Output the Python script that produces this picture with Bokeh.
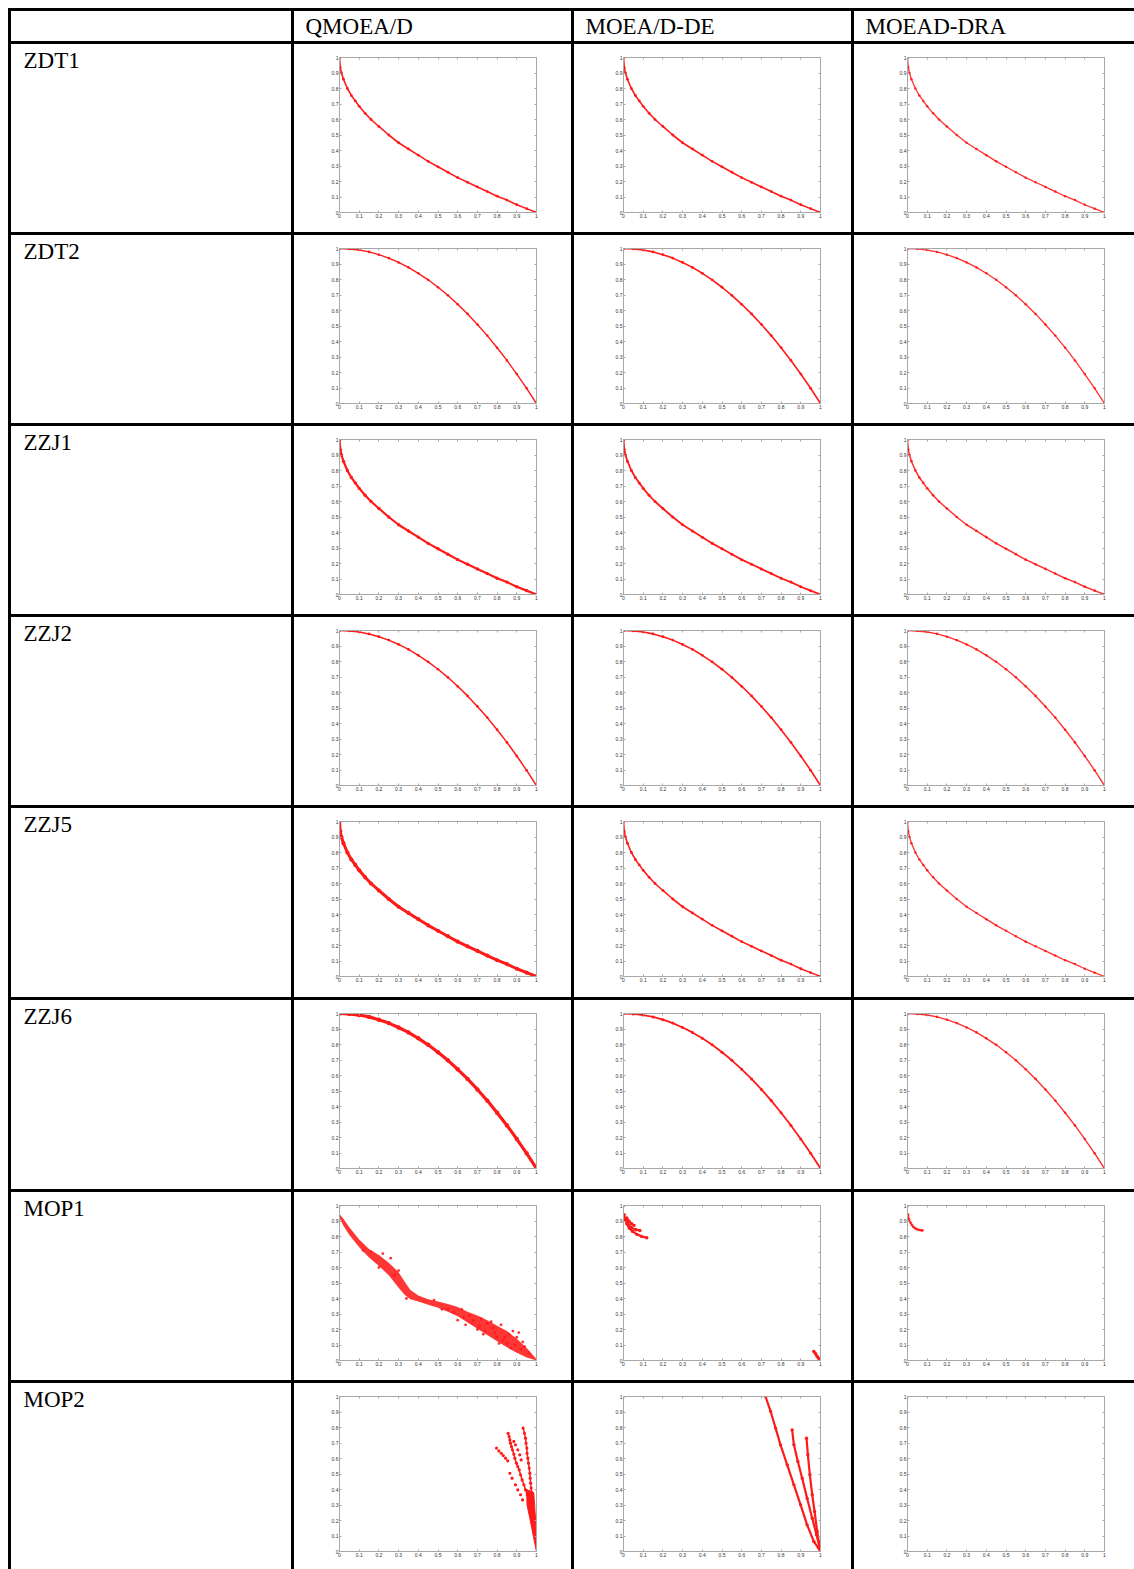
from bokeh.plotting import figure
from bokeh.models import Range1d, FixedTicker, LinearAxis, Div
from bokeh.layouts import row, column
from bokeh.core.properties import value
from bokeh.embed import file_html
from bokeh.resources import INLINE

# ---------------- data ----------------
algorithms = ["QMOEA/D", "MOEA/D-DE", "MOEAD-DRA"]
problems = ["ZDT1", "ZDT2", "ZZJ1", "ZZJ2", "ZZJ5", "ZZJ6", "MOP1", "MOP2"]

tick_values = [0.0, 0.1, 0.2, 0.3, 0.4, 0.5, 0.6, 0.7, 0.8, 0.9, 1.0]
tick_labels = ["0", "0.1", "0.2", "0.3", "0.4", "0.5", "0.6", "0.7", "0.8", "0.9", "1"]

# convex fronts (ZDT1, ZZJ1, ZZJ5)
convex_f1 = [0.0, 0.004, 0.01, 0.02, 0.04, 0.06, 0.08, 0.10, 0.13, 0.16, 0.20, 0.25, 0.30,
             0.35, 0.40, 0.45, 0.50, 0.55, 0.60, 0.65, 0.70, 0.75, 0.80, 0.85, 0.90, 0.95, 1.00]
convex_f2 = [1.0, 0.935, 0.90, 0.86, 0.80, 0.755, 0.72, 0.685, 0.64, 0.60, 0.555, 0.50, 0.45,
             0.41, 0.37, 0.33, 0.295, 0.26, 0.225, 0.195, 0.165, 0.135, 0.105, 0.08, 0.05, 0.025, 0.0]

# concave fronts (ZDT2, ZZJ2, ZZJ6)
concave_f1 = [0.0, 0.05, 0.10, 0.15, 0.20, 0.25, 0.30, 0.35, 0.40, 0.45, 0.50,
              0.55, 0.60, 0.65, 0.70, 0.75, 0.80, 0.85, 0.90, 0.95, 1.00]
concave_f2 = [1.0, 0.997, 0.99, 0.978, 0.96, 0.938, 0.91, 0.878, 0.84, 0.798, 0.75,
              0.698, 0.64, 0.578, 0.51, 0.438, 0.36, 0.278, 0.19, 0.098, 0.0]

# MOP1 - QMOEA/D (band of points)
mop1_q_f1 = [0.0, 0.02, 0.05, 0.10, 0.15, 0.20, 0.25, 0.30, 0.33, 0.36, 0.40, 0.45,
             0.50, 0.55, 0.60, 0.65, 0.70, 0.75, 0.80, 0.85, 0.90, 0.95, 1.00]
mop1_q_upper = [0.945, 0.915, 0.86, 0.78, 0.72, 0.68, 0.63, 0.57, 0.51, 0.455, 0.42, 0.395,
                0.38, 0.365, 0.345, 0.315, 0.29, 0.26, 0.225, 0.19, 0.14, 0.08, 0.01]
mop1_q_lower = [0.92, 0.87, 0.81, 0.73, 0.665, 0.61, 0.55, 0.47, 0.425, 0.395, 0.38, 0.36,
                0.34, 0.315, 0.285, 0.245, 0.205, 0.165, 0.125, 0.085, 0.05, 0.02, 0.0]
mop1_q_out_f1 = [0.0, 0.12, 0.16, 0.20, 0.22, 0.26, 0.28, 0.30, 0.34, 0.48, 0.52, 0.55,
                 0.58, 0.60, 0.62, 0.63, 0.64, 0.66, 0.68, 0.70, 0.71, 0.72, 0.73, 0.74,
                 0.75, 0.77, 0.78, 0.79, 0.80, 0.81, 0.82, 0.83, 0.84, 0.85, 0.86, 0.87,
                 0.88, 0.89, 0.90, 0.91, 0.92, 0.93, 0.94, 0.96]
mop1_q_out_f2 = [1.0, 0.71, 0.70, 0.60, 0.69, 0.66, 0.55, 0.58, 0.40, 0.39, 0.33, 0.33,
                 0.31, 0.26, 0.33, 0.28, 0.23, 0.29, 0.26, 0.20, 0.22, 0.27, 0.17, 0.19,
                 0.24, 0.25, 0.21, 0.18, 0.15, 0.11, 0.23, 0.13, 0.15, 0.11, 0.17, 0.08,
                 0.19, 0.10, 0.15, 0.18, 0.07, 0.12, 0.09, 0.05]

# MOP1 - MOEA/D-DE
mop1_de_arc1_f1 = [0.003, 0.008, 0.017, 0.029, 0.046, 0.068, 0.091, 0.118]
mop1_de_arc1_f2 = [0.94, 0.91, 0.882, 0.854, 0.833, 0.814, 0.801, 0.792]
mop1_de_arc2_f1 = [0.012, 0.024, 0.041, 0.063, 0.083]
mop1_de_arc2_f2 = [0.904, 0.876, 0.857, 0.844, 0.839]
mop1_de_arc3_f1 = [0.017, 0.029, 0.041, 0.054]
mop1_de_arc3_f2 = [0.919, 0.897, 0.882, 0.872]
mop1_de_tail_f1 = [0.966, 0.975, 0.983, 0.992, 1.0]
mop1_de_tail_f2 = [0.058, 0.043, 0.026, 0.013, 0.0]

# MOP1 - MOEAD-DRA
mop1_dra_f1 = [0.003, 0.008, 0.015, 0.022, 0.03, 0.04, 0.05, 0.06, 0.07, 0.076]
mop1_dra_f2 = [0.942, 0.91, 0.89, 0.875, 0.862, 0.852, 0.846, 0.842, 0.84, 0.84]

# MOP2 - QMOEA/D (strands)
mop2_q_s1_f1 = [0.797, 0.809, 0.821, 0.831, 0.843, 0.854]
mop2_q_s1_f2 = [0.667, 0.649, 0.634, 0.619, 0.602, 0.585]
mop2_q_s2_f1 = [0.856, 0.861, 0.865, 0.868, 0.873, 0.878, 0.885, 0.890, 0.898, 0.905,
                0.912, 0.919, 0.927, 0.936, 0.944, 0.953, 0.961]
mop2_q_s2_f2 = [0.763, 0.742, 0.720, 0.699, 0.677, 0.656, 0.628, 0.602, 0.570, 0.548,
                0.527, 0.495, 0.462, 0.430, 0.398, 0.366, 0.333]
mop2_q_s3_f1 = [0.932, 0.939, 0.944, 0.947, 0.951, 0.952, 0.956, 0.959, 0.963, 0.966,
                0.968, 0.970, 0.973, 0.976]
mop2_q_s3_f2 = [0.796, 0.763, 0.731, 0.699, 0.667, 0.634, 0.602, 0.570, 0.538, 0.505,
                0.473, 0.441, 0.409, 0.376]
mop2_q_s4_f1 = [0.865, 0.876, 0.893, 0.905, 0.919, 0.929]
mop2_q_s4_f2 = [0.505, 0.473, 0.430, 0.398, 0.366, 0.333]
mop2_q_s5_f1 = [0.885, 0.893, 0.905, 0.915, 0.922]
mop2_q_s5_f2 = [0.710, 0.688, 0.656, 0.624, 0.591]
mop2_q_wedge_f1 = [0.950, 0.986, 0.995, 1.0, 0.986, 0.966, 0.952]
mop2_q_wedge_f2 = [0.40, 0.38, 0.215, 0.0, 0.086, 0.215, 0.30]

# MOP2 - MOEA/D-DE (three curves)
mop2_de_c1_f1 = [0.721, 0.747, 0.772, 0.797, 0.831, 0.865, 0.899, 0.932, 0.966, 1.0]
mop2_de_c1_f2 = [1.0, 0.903, 0.796, 0.688, 0.559, 0.43, 0.301, 0.172, 0.065, 0.0]
mop2_de_c2_f1 = [0.856, 0.865, 0.885, 0.907, 0.932, 0.958, 0.98, 1.0]
mop2_de_c2_f2 = [0.785, 0.688, 0.581, 0.473, 0.344, 0.215, 0.108, 0.0]
mop2_de_c3_f1 = [0.929, 0.936, 0.946, 0.958, 0.97, 0.983, 1.0]
mop2_de_c3_f2 = [0.731, 0.624, 0.495, 0.366, 0.258, 0.129, 0.0]

corner_f1 = [0.0]
corner_f2 = [1.0]
end_f1 = [1.0]
end_f2 = [0.0]

# ---------------- layout constants ----------------
PAGE_MARGIN = 8
COL_W = [280, 277, 277, 280]
ROW_H = [188, 188, 188, 188, 189, 189, 188, 186]
HEAD_H = 30
LABEL_H = 30
SEP = 3
TOTAL_W = sum(COL_W) + SEP * 4
FRAME_LEFT = [45, 49, 53]
FRAME_W = 197
FRAME_TOP = 13
FRAME_H = 155
RED = "#ff1a1a"
AX_COL = "#a8a8a8"


def hsep(w, color="black", h=SEP):
    return Div(text="", width=w, height=h, margin=0,
               styles={"background-color": color})


def vsep(h, color="black", w=SEP):
    return Div(text="", width=w, height=h, margin=0,
               styles={"background-color": color})


def text_fig(txt, w, h, x0, ymid):
    p = figure(width=w, height=h, x_range=Range1d(0, w), y_range=Range1d(h, 0),
               x_axis_type=None, y_axis_type=None, min_border=0, title=None,
               outline_line_color=None, output_backend="svg", toolbar_location=None)
    if txt:
        p.text(x=[x0], y=[ymid], text=[txt], text_font=value("Liberation Serif"),
               text_font_size="23px", text_baseline="middle", text_align="left",
               text_color="black")
    return p


def label_cell(txt, w, h):
    # text strip on top, white filler below
    return column(text_fig(txt, w, LABEL_H, 12, 15.5),
                  Div(text="", width=w, height=h - LABEL_H, margin=0,
                      styles={"background-color": "white"}))


def style_axis(ax, labels=True):
    ax.ticker = FixedTicker(ticks=tick_values)
    ax.major_tick_in = 2
    ax.major_tick_out = 0
    ax.minor_tick_line_color = None
    ax.axis_line_color = AX_COL
    ax.major_tick_line_color = AX_COL
    ax.major_label_text_font_size = "5px"
    ax.major_label_text_font = "Liberation Sans"
    ax.major_label_standoff = 1
    if labels:
        ax.major_label_overrides = dict(zip(tick_values, tick_labels))
        ax.major_label_text_color = "#333333"
    else:
        ax.major_label_text_color = None


def plot_cell(col, h):
    w = COL_W[col + 1]
    left = FRAME_LEFT[col]
    p = figure(width=w, height=h, x_range=Range1d(0, 1), y_range=Range1d(0, 1),
               output_backend="svg", toolbar_location=None, title=None,
               min_border_left=left, min_border_right=w - left - FRAME_W,
               min_border_top=FRAME_TOP, min_border_bottom=h - FRAME_TOP - FRAME_H,
               outline_line_color=AX_COL, background_fill_color="white",
               border_fill_color="white")
    p.grid.visible = False
    style_axis(p.xaxis[0])
    style_axis(p.yaxis[0])
    top_ax = LinearAxis()
    right_ax = LinearAxis()
    style_axis(top_ax, labels=False)
    style_axis(right_ax, labels=False)
    p.add_layout(top_ax, "above")
    p.add_layout(right_ax, "right")
    return p


def curve(p, x, y, w, alpha=1.0):
    p.line(x, y, line_width=w, line_color=RED, line_alpha=alpha)
    p.scatter(x, y, size=w + 1.2, fill_color=RED, line_color=None, fill_alpha=alpha)


def dots(p, x, y, s=2.6, alpha=1.0):
    p.scatter(x, y, size=s, fill_color=RED, line_color=None, fill_alpha=alpha)


curve_width = {
    "ZDT1": [1.6, 1.6, 1.3],
    "ZDT2": [1.4, 1.6, 1.3],
    "ZZJ1": [2.2, 1.8, 1.5],
    "ZZJ2": [1.5, 1.6, 1.4],
    "ZZJ5": [3.0, 1.6, 1.3],
    "ZZJ6": [3.2, 1.8, 1.4],
}
front_shape = {"ZDT1": "convex", "ZDT2": "concave", "ZZJ1": "convex",
               "ZZJ2": "concave", "ZZJ5": "convex", "ZZJ6": "concave"}


def draw(p, prob, col):
    if prob in front_shape:
        if front_shape[prob] == "convex":
            x, y = convex_f1, convex_f2
        else:
            x, y = concave_f1, concave_f2
        curve(p, x, y, curve_width[prob][col], alpha=0.9 if col == 2 else 1.0)
        dots(p, corner_f1, corner_f2, 3)
    elif prob == "MOP1":
        if col == 0:
            p.varea(x=mop1_q_f1, y1=mop1_q_lower, y2=mop1_q_upper,
                    fill_color=RED, fill_alpha=0.88)
            dots(p, mop1_q_out_f1, mop1_q_out_f2, 2.8, 0.9)
        elif col == 1:
            dots(p, corner_f1, corner_f2, 3)
            curve(p, mop1_de_arc1_f1, mop1_de_arc1_f2, 2.2)
            curve(p, mop1_de_arc2_f1, mop1_de_arc2_f2, 2.2)
            curve(p, mop1_de_arc3_f1, mop1_de_arc3_f2, 2.2)
            curve(p, mop1_de_tail_f1, mop1_de_tail_f2, 2.4)
        else:
            dots(p, corner_f1, corner_f2, 3)
            curve(p, mop1_dra_f1, mop1_dra_f2, 1.5, alpha=0.9)
            dots(p, end_f1, end_f2, 2.5)
    elif prob == "MOP2":
        dots(p, corner_f1, corner_f2, 2.5)
        if col == 0:
            p.patch(mop2_q_wedge_f1, mop2_q_wedge_f2, fill_color=RED, line_color=RED)
            for xs, ys in [(mop2_q_s1_f1, mop2_q_s1_f2), (mop2_q_s2_f1, mop2_q_s2_f2),
                           (mop2_q_s3_f1, mop2_q_s3_f2), (mop2_q_s4_f1, mop2_q_s4_f2),
                           (mop2_q_s5_f1, mop2_q_s5_f2)]:
                dots(p, xs, ys, 3.2)
            p.line(mop2_q_s2_f1, mop2_q_s2_f2, line_width=1.5, line_color=RED)
            p.line(mop2_q_s3_f1, mop2_q_s3_f2, line_width=1.5, line_color=RED)
        elif col == 1:
            curve(p, mop2_de_c1_f1, mop2_de_c1_f2, 2.2)
            curve(p, mop2_de_c2_f1, mop2_de_c2_f2, 2.2)
            curve(p, mop2_de_c3_f1, mop2_de_c3_f2, 2.2)


# ---------------- assemble table ----------------
items = [hsep(TOTAL_W)]
header_cells = [text_fig("", COL_W[0], HEAD_H, 12, 15)]
for j, name in enumerate(algorithms):
    header_cells.append(text_fig(name, COL_W[j + 1], HEAD_H, 11, 15))
hr = []
for c in header_cells:
    hr += [vsep(HEAD_H), c]
items.append(row(*hr))

for i, prob in enumerate(problems):
    h = ROW_H[i]
    items.append(hsep(TOTAL_W))
    cells = [label_cell(prob, COL_W[0], h)]
    for j in range(3):
        p = plot_cell(j, h)
        draw(p, prob, j)
        cells.append(p)
    rr = []
    for c in cells:
        rr += [vsep(h), c]
    items.append(row(*rr))

table = column(*items)
table_h = SEP + HEAD_H + sum(SEP + h for h in ROW_H)
page = column(hsep(PAGE_MARGIN + TOTAL_W, "white", PAGE_MARGIN),
              row(vsep(table_h, "white", PAGE_MARGIN), table))
open("out.html", "w").write(file_html(page, INLINE))
